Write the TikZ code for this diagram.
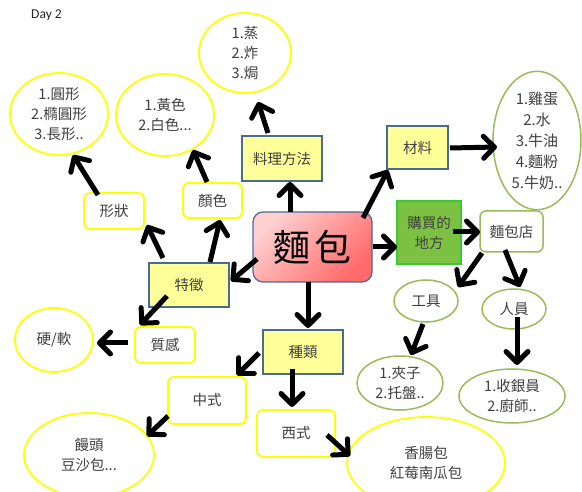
\documentclass[tikz,border=0pt]{standalone}
\usepackage{fontspec}
\setmainfont{Noto Sans CJK TC}
\newfontfamily\latfont{Carlito}
\usetikzlibrary{shapes.geometric,arrows.meta}
\definecolor{boxblue}{HTML}{4A6A94}
\definecolor{boxyellow}{HTML}{FFFF99}
\definecolor{lineyellow}{HTML}{FFFF00}
\definecolor{linegreen}{HTML}{9BBB59}
\definecolor{buygreen}{HTML}{7CC142}
\definecolor{buyedge}{HTML}{33CC33}
\definecolor{pinklight}{HTML}{FFD0D0}
\definecolor{pinkdark}{HTML}{FF6A6A}
\definecolor{txt}{HTML}{404040}
\begin{document}
\begin{tikzpicture}[x=1pt,y=-1pt,
  every node/.style={inner sep=0pt, align=center, text=txt, font=\fontsize{14.5}{20}\selectfont},
  ybox/.style={draw=boxblue, fill=boxyellow, line width=1.2pt, rectangle},
  wbox/.style={draw=lineyellow, fill=white, line width=1.8pt, rectangle, rounded corners=6pt},
  gbox/.style={draw=linegreen, fill=white, line width=1.5pt, rectangle, rounded corners=6pt},
  yell/.style={draw=lineyellow, line width=1.8pt, ellipse},
  gell/.style={draw=linegreen, line width=1.5pt, ellipse},
  arr/.style={draw=black, line width=5pt, -{Straight Barb[length=11pt,width=22pt,round]}}
]
\useasboundingbox (0,0) rectangle (582,492);
\fill[white] (0,0) rectangle (582,492);

\node[font=\latfont\fontsize{13.5}{15}\selectfont, text=black!85] (day) at (46.5,15) {Day 2};

% central
\node[draw=boxblue, line width=1.2pt, rounded corners=10pt, top color=pinklight, bottom color=pinkdark, shading angle=45,
  minimum width=119pt, minimum height=70pt, text=black, font=\fontsize{37}{40}\selectfont] (mian) at (312.5,247) {麵\hspace{5pt}包};

% yellow boxes
\node[ybox, minimum width=80pt, minimum height=45pt] (cook) at (282,158.5) {料理方法};
\node[ybox, minimum width=61pt, minimum height=43pt] (mat) at (417.5,147.5) {材料};
\node[ybox, minimum width=80pt, minimum height=44pt] (kind) at (303,352) {種類};
\node[ybox, minimum width=80pt, minimum height=44pt] (feat) at (189,285) {特徵};

% green buy box
\node[draw=buyedge, fill=buygreen, line width=1.5pt, minimum width=64pt, minimum height=63pt, text=black!75] (buy) at (429,232.5) {購買的\\地方};
\node[gbox, minimum width=63pt, minimum height=41pt] (shop) at (511.5,231.5) {麵包店};

% white rounded boxes
\node[wbox, minimum width=60pt, minimum height=36pt] (shape) at (114,211) {形狀};
\node[wbox, minimum width=59pt, minimum height=35pt] (color) at (212.5,200.5) {顏色};
\node[wbox, minimum width=60pt, minimum height=36pt] (tex) at (165,345) {質感};
\node[wbox, minimum width=78pt, minimum height=47pt] (cn) at (207,400.5) {中式};
\node[wbox, minimum width=78pt, minimum height=47pt] (west) at (296,433.5) {西式};

% yellow ellipses
\node[yell, minimum width=92pt, minimum height=80pt] (steam) at (245,53) {1.蒸\\2.炸\\3.焗};
\node[yell, minimum width=98pt, minimum height=82pt] (round) at (59,114) {1.圓形\\2.橢圓形\\3.長形..};
\node[yell, minimum width=98pt, minimum height=82pt] (yellow) at (165,115) {1.黃色\\2.白色...};
\node[yell, minimum width=78pt, minimum height=64pt] (hard) at (54,340) {硬/軟};
\node[yell, minimum width=130pt, minimum height=84pt] (mantou) at (89,455) {饅頭\\豆沙包...};
\node[yell, minimum width=158pt, minimum height=92pt] (sausage) at (426,463) {香腸包\\紅莓南瓜包};

% green ellipses
\node[gell, minimum width=88pt, minimum height=129pt, font=\fontsize{15}{21}\selectfont] (ingr) at (537,140.5) {1.雞蛋\\2.水\\3.牛油\\4.麵粉\\5.牛奶..};
\node[gell, minimum width=64pt, minimum height=42pt] (tool) at (426,301) {工具};
\node[gell, minimum width=64pt, minimum height=40pt] (staff) at (514,309) {人員};
\node[gell, minimum width=86pt, minimum height=54pt] (clip) at (400,383) {1.夾子\\2.托盤..};
\node[gell, minimum width=106pt, minimum height=54pt] (cash) at (512,396) {1.收銀員\\2.廚師..};

% arrows
\draw[arr] ([shift={(-22.5,-35)}]mian.center) -- ([shift={(8,23.5)}]cook.center);
\draw[arr] ([shift={(-14,-25.5)}]cook.center) -- ([shift={(13,49)}]steam.center);
\draw[arr] ([shift={(-26,-27)}]feat.center) -- ([shift={(33,14)}]shape.center);
\draw[arr] ([shift={(-16,-16)}]shape.center) -- ([shift={(14,41)}]round.center);
\draw[arr] ([shift={(21,-23)}]feat.center) -- ([shift={(7.5,19.5)}]color.center);
\draw[arr] ([shift={(-5.5,-18.5)}]color.center) -- ([shift={(28,35)}]yellow.center);
\draw[arr] ([shift={(-55.5,12)}]mian.center) -- ([shift={(42,-4)}]feat.center);
\draw[arr] ([shift={(-22,11)}]feat.center) -- ([shift={(-25,-20)}]tex.center);
\draw[arr] ([shift={(-37,-2)}]tex.center) -- ([shift={(43,3)}]hard.center);
\draw[arr] ([shift={(-4.5,35)}]mian.center) -- ([shift={(5,-24)}]kind.center);
\draw[arr] ([shift={(-44,1)}]kind.center) -- ([shift={(30,-25.5)}]cn.center);
\draw[arr] ([shift={(-39,15.5)}]cn.center) -- ([shift={(58,-19)}]mantou.center);
\draw[arr] ([shift={(-11,17)}]kind.center) -- ([shift={(-4,-26.5)}]west.center);
\draw[arr] ([shift={(31,1.5)}]west.center) -- ([shift={(-76,-7)}]sausage.center);
\draw[arr] ([shift={(50.5,-29)}]mian.center) -- ([shift={(-29.5,22.5)}]mat.center);
\draw[arr] ([shift={(32.5,0.5)}]mat.center) -- ([shift={(-40,6.5)}]ingr.center);
\draw[arr] ([shift={(60.5,0)}]mian.center) -- ([shift={(-32,14.5)}]buy.center);
\draw[arr] ([shift={(24,-0.5)}]buy.center) -- ([shift={(-31.5,0.5)}]shop.center);
\draw[arr] ([shift={(-29.5,21.5)}]shop.center) -- ([shift={(32,-14)}]tool.center);
\draw[arr] ([shift={(-6.5,18.5)}]shop.center) -- ([shift={(6,-22)}]staff.center);
\draw[arr] ([shift={(-3,23)}]tool.center) -- ([shift={(11,-28)}]clip.center);
\draw[arr] ([shift={(3,8)}]staff.center) -- ([shift={(5,-31)}]cash.center);
\end{tikzpicture}
\end{document}
